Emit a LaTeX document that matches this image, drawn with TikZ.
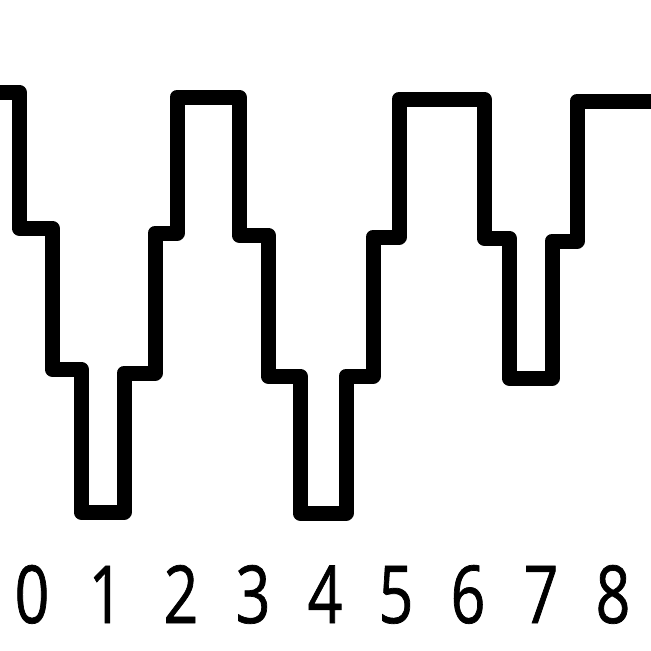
\documentclass[tikz,border=0pt]{standalone}
\usepackage{fontspec}
\newfontfamily\digitfont[FakeStretch=0.76,FakeBold=0.9]{Open Sans}
\begin{document}
\begin{tikzpicture}[x=1pt,y=-1pt,
  wave/.style={line width=15pt,line join=round,line cap=round,black},
  digit/.style={anchor=base,inner sep=0pt,font=\digitfont\fontsize{80}{80}\selectfont}]
\fill[white] (0,0) rectangle (651,651);
\useasboundingbox (0,0) rectangle (651,651);
\begin{scope}
\clip (0,0) rectangle (651,651);
\draw[wave] (-10,92) -- (19,92) -- (19,228) -- (52,228) -- (52,369) -- (81,369)
  -- (81,512) -- (124,512) -- (124,373) -- (155,373) -- (155,233) -- (177,233)
  -- (177,97) -- (239,97) -- (239,235) -- (268,235) -- (268,376) -- (300,376)
  -- (300,513) -- (346,513) -- (346,376) -- (373,376) -- (373,237) -- (399,237)
  -- (399,99) -- (484,99) -- (484,238) -- (509,238) -- (509,378) -- (552,378)
  -- (552,241) -- (577,241) -- (577,101) -- (665,101);
\end{scope}
\node[digit] (d0) at (32,623) {0};
\node[digit] (d1) at (106,623) {1};
\node[digit] (d2) at (181,623) {2};
\node[digit] (d3) at (253,623) {3};
\node[digit] (d4) at (325,623) {4};
\node[digit] (d5) at (396,623) {5};
\node[digit] (d6) at (468,623) {6};
\node[digit] (d7) at (541,623) {7};
\node[digit] (d8) at (613,623) {8};
\end{tikzpicture}
\end{document}
